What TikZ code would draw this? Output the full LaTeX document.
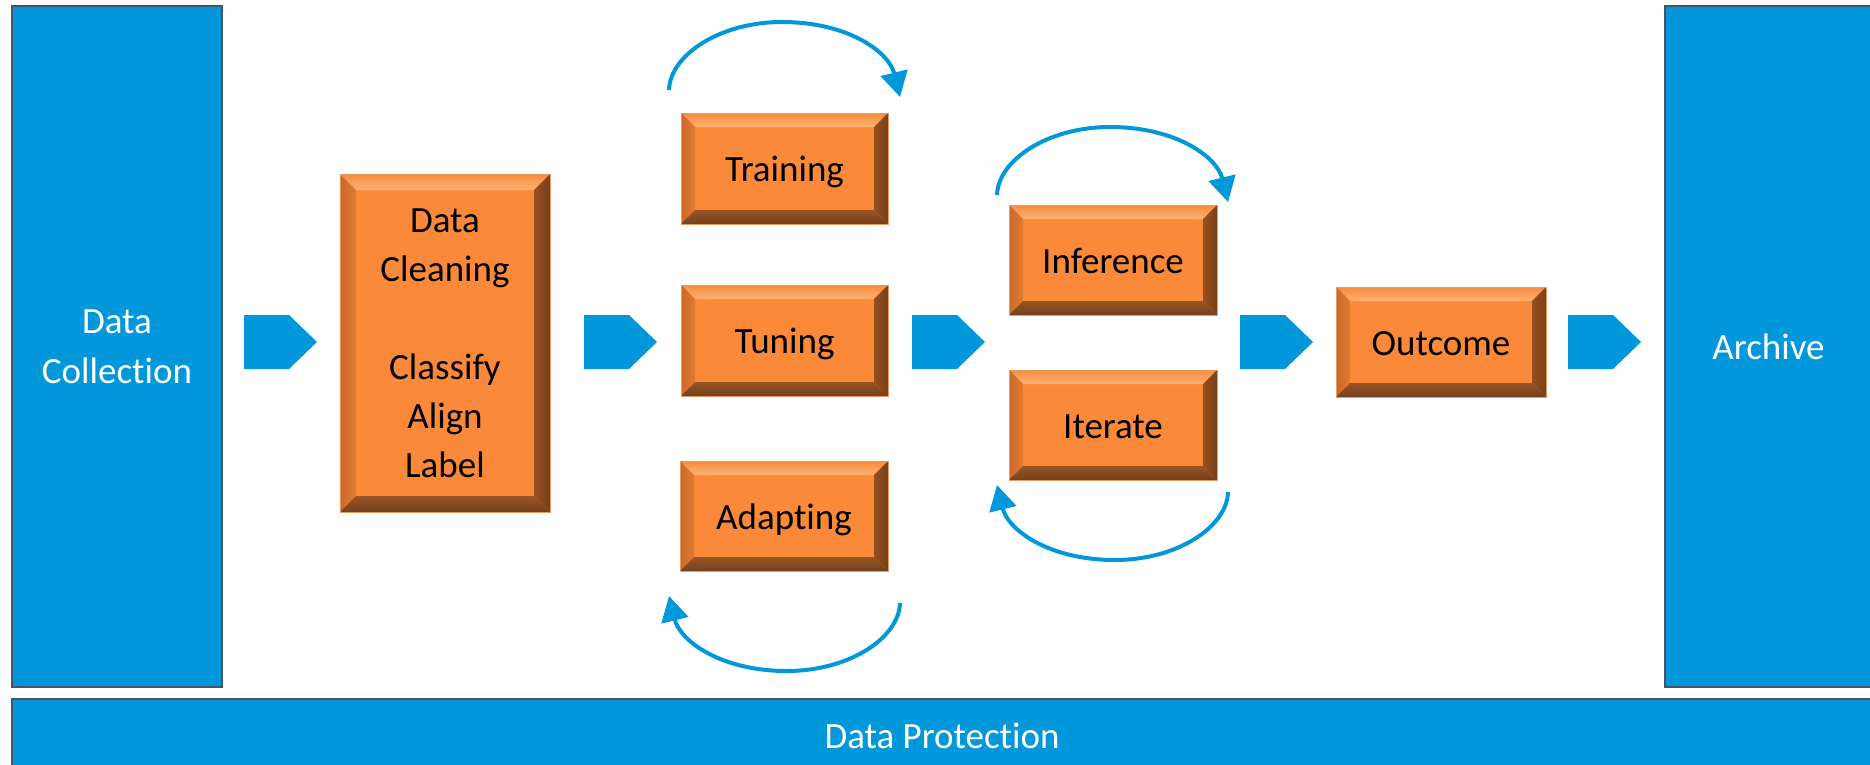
\documentclass[tikz,border=0pt]{standalone}
\usepackage{fontspec}
\setmainfont{Carlito}[Ligatures={NoCommon}]
\usetikzlibrary{arrows.meta,calc}

\definecolor{flowblue}{HTML}{0098DA}
\definecolor{frameslate}{HTML}{44546A}
\definecolor{faceorange}{HTML}{FA8A3A}
\definecolor{bevedge}{HTML}{E89A62}
\definecolor{bevtopout}{HTML}{F78B3E}
\definecolor{bevtopin}{HTML}{FDB374}
\definecolor{bevleftout}{HTML}{C8692A}
\definecolor{bevleftin}{HTML}{E27B32}
\definecolor{bevrightin}{HTML}{95501F}
\definecolor{bevrightout}{HTML}{7A4018}
\definecolor{bevbotin}{HTML}{9A5426}
\definecolor{bevbotout}{HTML}{73401E}

\tikzset{
  panel/.style={draw=frameslate, line width=2.5pt, fill=flowblue, text=white,
    align=center, inner sep=0pt, font=\fontsize{37}{50}\selectfont},
  bevelbox/.style={fill=faceorange, draw=bevedge, line width=0.8pt, inner sep=0pt,
    text=black, align=center, font=\fontsize{37}{49}\selectfont,
    path picture={
      \path (path picture bounding box.north west) coordinate (bvA)
            (path picture bounding box.north east) coordinate (bvB)
            (path picture bounding box.south east) coordinate (bvC)
            (path picture bounding box.south west) coordinate (bvD);
      \shade[top color=bevtopout, bottom color=bevtopin]
        (bvA) -- (bvB) -- ($(bvB)+(-#1,#1)$) -- ($(bvA)+(#1,#1)$) -- cycle;
      \shade[left color=bevleftout, right color=bevleftin]
        (bvA) -- ($(bvA)+(#1,#1)$) -- ($(bvD)+(#1,-#1)$) -- (bvD) -- cycle;
      \shade[left color=bevrightin, right color=bevrightout]
        (bvB) -- (bvC) -- ($(bvC)+(-#1,-#1)$) -- ($(bvB)+(-#1,#1)$) -- cycle;
      \shade[top color=bevbotin, bottom color=bevbotout]
        (bvD) -- (bvC) -- ($(bvC)+(-#1,-#1)$) -- ($(bvD)+(#1,-#1)$) -- cycle;
    }},
  bevelbox/.default=14,
  oneline/.style={text height=26pt, text depth=0pt},
  loop/.style={draw=flowblue, line width=4pt, -{Triangle[length=25pt,width=27pt]}},
  chev/.pic={\fill[flowblue] (0,0) -- (45,0) -- (73,27) -- (45,54) -- (0,54) -- cycle;}
}

\begin{document}
\begin{tikzpicture}[x=1pt, y=-1pt]
  \useasboundingbox (0,0) rectangle (1870,764);
  \clip (0,0) rectangle (1870,764);
  \fill[white] (0,0) rectangle (1870,764);

  % frame panels
  \node[panel, minimum width=210pt, minimum height=681pt] (collect) at (117,346.5) {Data\\Collection};
  \node[panel, minimum width=207pt, minimum height=681pt] (archive) at (1768.5,346.5) {Archive};
  \node[panel, minimum width=1860pt, minimum height=73pt] (protect) at (942,735.5) {Data Protection};

  % process steps
  \node[bevelbox=16, minimum width=210pt, minimum height=338pt] (clean) at (445,343)
    {Data\\Cleaning\\[49pt]Classify\\Align\\Label};
  \node[bevelbox, oneline, minimum width=207pt, minimum height=111pt] (train) at (784.5,168.5) {Training};
  \node[bevelbox, oneline, minimum width=207pt, minimum height=111pt] (tune) at (784.5,340.5) {Tuning};
  \node[bevelbox, oneline, minimum width=208pt, minimum height=110pt] (adapt) at (784,516) {Adapting};
  \node[bevelbox, oneline, minimum width=208pt, minimum height=110pt] (infer) at (1113,260) {Inference};
  \node[bevelbox, oneline, minimum width=208pt, minimum height=110pt] (iter) at (1113,425) {Iterate};
  \node[bevelbox, oneline, minimum width=210pt, minimum height=110pt] (outc) at (1441,342) {Outcome};

  % flow chevrons between the columns
  \pic at (244,315) {chev};
  \pic at (584,315) {chev};
  \pic at (912,315) {chev};
  \pic at (1240,315) {chev};
  \pic at (1568,315) {chev};

  % loop arrows
  \coordinate (trS) at (669,90);   \coordinate (trE) at (900,97);
  \coordinate (inS) at (997,195);  \coordinate (inE) at (1228,202);
  \coordinate (itS) at (1228,492); \coordinate (itE) at (997,485);
  \coordinate (adS) at (900,603);  \coordinate (adE) at (669,596);

  \draw[loop] (trS) .. controls (670,55) and (720,22) .. (782,22)
                    .. controls (848,22) and (889,52) .. (trE);
  \draw[loop] (inS) .. controls (998,160) and (1048,127) .. (1110,127)
                    .. controls (1176,127) and (1217,157) .. (inE);
  \draw[loop] (itS) .. controls (1227,527) and (1177,560) .. (1115,560)
                    .. controls (1049,560) and (1008,530) .. (itE);
  \draw[loop] (adS) .. controls (899,638) and (849,671) .. (787,671)
                    .. controls (721,671) and (680,641) .. (adE);
\end{tikzpicture}
\end{document}
